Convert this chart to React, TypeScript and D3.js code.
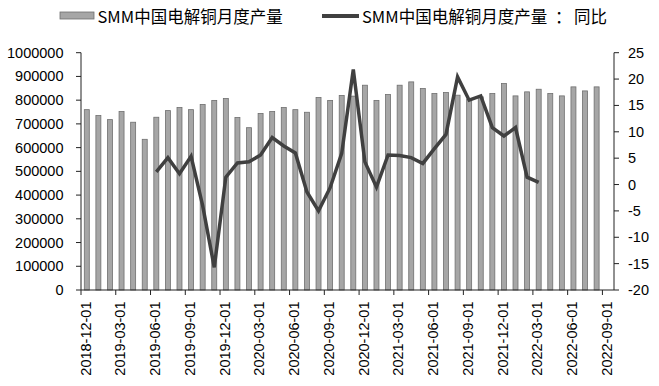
import React from "react";
import * as d3 from "d3";

const months: string[] = [
  "2018-12-01","2019-01-01","2019-02-01","2019-03-01","2019-04-01","2019-05-01",
  "2019-06-01","2019-07-01","2019-08-01","2019-09-01","2019-10-01","2019-11-01",
  "2019-12-01","2020-01-01","2020-02-01","2020-03-01","2020-04-01","2020-05-01",
  "2020-06-01","2020-07-01","2020-08-01","2020-09-01","2020-10-01","2020-11-01",
  "2020-12-01","2021-01-01","2021-02-01","2021-03-01","2021-04-01","2021-05-01",
  "2021-06-01","2021-07-01","2021-08-01","2021-09-01","2021-10-01","2021-11-01",
  "2021-12-01","2022-01-01","2022-02-01","2022-03-01","2022-04-01","2022-05-01",
  "2022-06-01","2022-07-01","2022-08-01","2022-09-01",
];

const production: (number | null)[] = [
  760000, 735000, 718000, 752000, 707000, 635000,
  728000, 756000, 769000, 760000, 782000, 799000,
  807000, 727000, 684000, 744000, 752000, 769000,
  760000, 749000, 811000, 799000, 820000, 817000,
  863000, 799000, 824000, 863000, 877000, 849000,
  828000, 832000, 821000, 805000, 814000, 828000,
  870000, 818000, 835000, 846000, 828000, 818000,
  856000, 839000, 856000, null,
];

const yoy: (number | null)[] = [
  null, null, null, null, null, null,
  2.4, 5.1, 2.05, 5.35, -4, -15.7,
  1.4, 4.1, 4.3, 5.6, 8.9, 7.3,
  6.0, -1.4, -5.0, -0.6, 5.9, 21.8,
  4.3, -0.5, 5.6, 5.5, 5.1, 4.0,
  6.8, 9.5, 20.4, 16.0, 16.8, 10.8,
  9.2, 10.8, 1.4, 0.4, null, null,
  null, null, null, null,
];

const leftTicks: number[] = [0, 100000, 200000, 300000, 400000, 500000, 600000, 700000, 800000, 900000, 1000000];
const rightTicks: number[] = [-20, -15, -10, -5, 0, 5, 10, 15, 20, 25];
const barLabel = "SMM中国电解铜月度产量";
const lineLabelMain = "SMM中国电解铜月度产量";
const lineLabelSep = "：";
const lineLabelTail = "同比";

const W = 659, H = 386;
const L = 81, R = 614, T = 52.7, B = 290;
const FONT = "'Liberation Sans', Arial, sans-serif";
const CJK = "'Noto Sans CJK SC', 'Liberation Sans', sans-serif";

export default function App() {
  const x = d3.scaleBand<string>().domain(months).range([L, R]).paddingInner(0.57).paddingOuter(0.285);
  const yL = d3.scaleLinear().domain([0, 1000000]).range([B, T]);
  const yR = d3.scaleLinear().domain([-20, 25]).range([B, T]);
  const step = x.step();
  const bw = x.bandwidth();
  const cx = (m: string) => (x(m) as number) + bw / 2;

  const lineGen = d3.line<number | null>()
    .defined((d) => d !== null)
    .x((_, i) => cx(months[i]))
    .y((d) => yR(d as number));

  const tickCats = months.filter((_, i) => i % 3 === 0);

  return (
    <svg width={W} height={H} style={{ position: "absolute", left: 0, top: 0, background: "#fff" }}>
      <rect x={0} y={0} width={W} height={H} fill="#fff" />
      {/* bars */}
      {production.map((v, i) =>
        v === null ? null : (
          <rect key={i} x={x(months[i])} y={yL(v)} width={bw} height={B - yL(v)}
            fill="#a6a6a6" stroke="#6f6f6f" strokeWidth={0.8} />
        )
      )}
      {/* line */}
      <path d={lineGen(yoy) || ""} fill="none" stroke="#404040" strokeWidth={3.5} strokeLinejoin="miter" />
      {/* x axis */}
      <line x1={L} x2={R} y1={B} y2={B} stroke="#222" strokeWidth={1} />
      {tickCats.map((m) => {
        const tx = cx(m) - step / 2;
        return (
          <g key={m}>
            <line x1={tx} x2={tx} y1={B} y2={B + 5} stroke="#222" strokeWidth={1} />
            <text transform={`translate(${tx + 4.5},${301.5}) rotate(-90)`} textAnchor="end"
              dominantBaseline="central" fontFamily={FONT} fontSize={14.5} fill="#000">{m}</text>
          </g>
        );
      })}
      {/* left axis */}
      <line x1={L} x2={L} y1={T} y2={B} stroke="#222" strokeWidth={1} />
      {leftTicks.map((t) => (
        <g key={t}>
          <line x1={L - 5} x2={L} y1={yL(t)} y2={yL(t)} stroke="#222" strokeWidth={1} />
          <text x={63.5} y={yL(t)} textAnchor="end" dominantBaseline="central" fontFamily={FONT} fontSize={14.5} fill="#000">{t}</text>
        </g>
      ))}
      {/* right axis */}
      <line x1={R} x2={R} y1={T} y2={B} stroke="#222" strokeWidth={1} />
      {rightTicks.map((t) => (
        <g key={t}>
          <line x1={R} x2={R + 5} y1={yR(t)} y2={yR(t)} stroke="#222" strokeWidth={1} />
          <text x={628} y={yR(t)} textAnchor="start" dominantBaseline="central" fontFamily={FONT} fontSize={14.5} fill="#000">{t}</text>
        </g>
      ))}
      {/* legend */}
      <rect x={60} y={12} width={34} height={7} fill="#a6a6a6" stroke="#6f6f6f" strokeWidth={0.8} />
      <text x={97.5} y={16} dominantBaseline="central" fontFamily={CJK} fontSize={16.5} fill="#000">{barLabel}</text>
      <line x1={322} x2={359} y1={16} y2={16} stroke="#404040" strokeWidth={4} />
      <text y={16} dominantBaseline="central" fontFamily={CJK} fontSize={16.5} fill="#000">
        <tspan x={362}>{lineLabelMain}</tspan>
        <tspan x={555}>{lineLabelSep}</tspan>
        <tspan x={574}>{lineLabelTail}</tspan>
      </text>
    </svg>
  );
}
